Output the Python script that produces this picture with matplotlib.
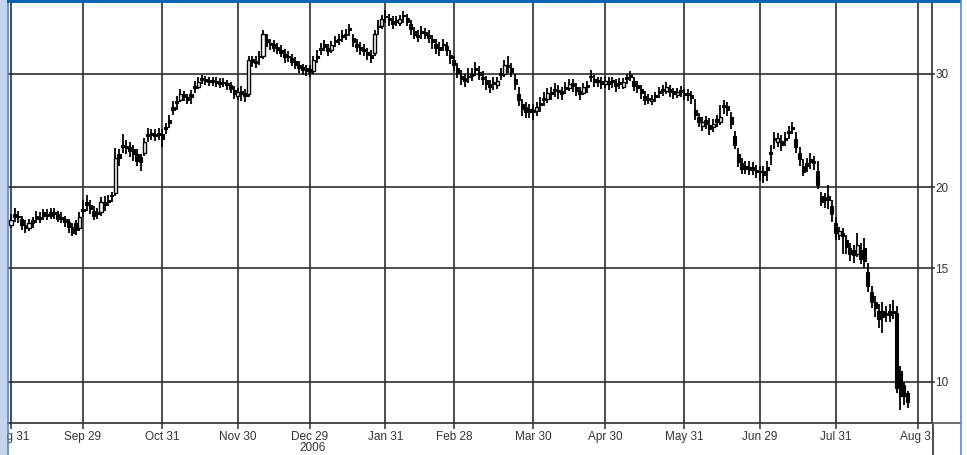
import matplotlib
matplotlib.use("Agg")
import matplotlib.pyplot as plt
from matplotlib.patches import Rectangle
from matplotlib.lines import Line2D
import numpy as np

# ---- data (trading-day index 0 = Aug 31 2005) ----
closes = [
17.8, 18.0, 18.0, 17.5, 17.3, 17.6, 17.6, 17.9, 17.9, 18.1,
18.1, 18.1, 18.2, 17.9, 17.9, 17.7, 17.4, 17.0, 17.2, 18.0,
18.4, 18.8, 18.5, 18.1, 18.2, 19.0, 18.8, 19.0, 19.4, 22.2,
22.2, 23.1, 23.0, 22.8, 22.5, 22.0, 21.9, 23.5, 24.0, 24.1,
24.0, 24.1, 23.8, 24.6, 25.2, 26.4, 27.0, 27.9, 27.6, 27.3,
27.6, 28.5, 29.1, 29.3, 29.2, 29.1, 29.1, 29.0, 28.9, 29.0,
28.8, 28.4, 27.9, 28.1, 27.9, 27.7, 31.5, 31.3, 31.2, 31.8,
34.6, 33.6, 33.2, 32.9, 32.7, 32.3, 31.8, 31.8, 31.3, 31.0,
30.6, 30.4, 30.3, 30.2, 31.5, 31.7, 32.7, 33.0, 32.5, 33.2,
33.6, 33.8, 34.2, 34.4, 35.1, 33.6, 33.0, 32.7, 32.5, 32.1,
31.7, 34.6, 35.4, 36.4, 36.7, 36.3, 35.8, 36.1, 36.4, 36.8,
36.1, 35.2, 34.5, 34.2, 34.7, 34.5, 34.1, 33.6, 32.9, 32.7,
33.2, 32.7, 31.7, 31.0, 30.1, 29.4, 29.2, 29.6, 29.8, 30.4,
29.9, 29.4, 28.9, 28.6, 28.9, 29.2, 29.9, 31.0, 30.7, 30.2,
28.9, 27.3, 26.5, 26.2, 26.2, 26.2, 26.6, 26.8, 27.3, 28.0,
27.9, 28.2, 28.1, 27.9, 28.4, 28.9, 28.7, 28.2, 27.9, 28.6,
28.6, 29.6, 29.1, 29.1, 28.9, 29.2, 28.9, 29.1, 28.7, 28.9,
29.1, 29.4, 29.7, 28.7, 28.5, 28.0, 27.3, 27.3, 27.4, 27.6,
28.0, 28.2, 28.6, 28.1, 27.9, 28.1, 28.1, 27.8, 27.8, 27.5,
25.9, 25.3, 25.3, 25.1, 24.6, 25.1, 25.3, 25.7, 26.6, 26.4,
25.1, 23.3, 21.9, 21.4, 21.4, 21.3, 21.3, 21.1, 21.1, 20.9,
21.3, 22.5, 23.7, 23.9, 23.3, 23.7, 24.3, 24.6, 23.1, 22.1,
21.1, 21.6, 21.9, 21.8, 20.2, 19.0, 19.1, 19.1, 18.2, 17.0,
17.1, 16.8, 16.2, 15.8, 15.7, 16.3, 15.5, 15.4, 14.1, 13.3,
13.0, 12.5, 12.6, 12.7, 12.7, 12.8, 9.8, 9.5, 9.5, 9.3,
]
opens = [
17.5, 18.2, 18.1, 17.9, 17.5, 17.3, 17.8, 18.1, 18.0, 18.3,
18.2, 18.3, 18.3, 18.2, 18.0, 17.9, 17.7, 17.4, 17.6, 17.3,
18.5, 19.0, 18.8, 18.4, 18.3, 18.3, 19.0, 19.1, 19.5, 19.6,
22.5, 23.3, 23.2, 23.1, 22.9, 22.5, 22.3, 22.6, 24.2, 24.3,
24.2, 24.3, 24.2, 24.8, 25.4, 26.6, 27.2, 27.3, 27.9, 27.6,
27.9, 28.7, 28.6, 29.5, 29.4, 29.3, 29.3, 29.2, 29.1, 29.1,
29.0, 28.8, 28.3, 27.7, 28.2, 28.0, 27.9, 31.6, 31.4, 31.9,
31.9, 34.0, 33.5, 33.3, 33.0, 32.7, 32.2, 32.0, 31.7, 31.4,
30.9, 30.7, 30.6, 30.5, 30.3, 32.0, 32.9, 33.3, 32.9, 32.6,
33.8, 34.0, 34.4, 34.6, 35.3, 34.1, 33.4, 33.0, 32.8, 32.4,
32.1, 32.3, 35.6, 35.6, 36.9, 36.6, 36.2, 36.3, 35.9, 37.0,
36.6, 35.8, 34.9, 34.5, 34.9, 34.8, 34.4, 34.0, 33.3, 33.0,
33.4, 33.1, 32.1, 31.5, 30.6, 29.8, 29.5, 29.8, 30.0, 30.6,
30.2, 29.7, 29.3, 28.9, 29.1, 28.8, 30.1, 30.0, 31.0, 30.6,
29.4, 27.9, 26.9, 26.6, 26.5, 26.4, 26.3, 27.0, 27.5, 27.4,
28.1, 28.4, 28.3, 28.2, 28.6, 28.5, 29.0, 28.6, 28.2, 28.0,
28.8, 29.8, 29.4, 29.3, 29.2, 28.9, 29.2, 29.3, 29.0, 29.1,
28.6, 29.6, 29.9, 29.2, 28.8, 28.4, 27.7, 27.5, 27.2, 27.8,
28.2, 28.4, 28.2, 28.4, 28.2, 27.8, 28.3, 28.0, 28.0, 27.8,
26.4, 25.7, 24.9, 25.4, 25.0, 24.8, 25.5, 25.3, 26.8, 26.7,
25.7, 24.0, 22.5, 21.8, 21.6, 21.5, 21.5, 21.3, 21.2, 21.2,
21.5, 22.7, 23.9, 23.5, 23.6, 23.9, 24.5, 24.8, 23.8, 22.6,
21.6, 21.8, 22.1, 22.0, 21.2, 19.4, 19.3, 19.4, 18.7, 17.6,
16.9, 17.0, 16.6, 16.1, 16.0, 15.8, 16.0, 16.1, 14.8, 13.8,
13.3, 12.9, 12.9, 12.8, 12.9, 12.9, 12.8, 10.4, 9.9, 9.6,
]
highs = [
18.2, 18.6, 18.4, 18.1, 17.8, 17.9, 18.0, 18.4, 18.3, 18.5,
18.5, 18.6, 18.6, 18.4, 18.3, 18.1, 17.9, 17.6, 17.8, 18.3,
19.1, 19.5, 19.1, 18.7, 18.6, 19.3, 19.4, 19.5, 19.7, 23.0,
22.9, 24.2, 23.7, 23.5, 23.3, 22.9, 22.5, 23.9, 24.7, 24.6,
24.6, 24.7, 24.6, 25.2, 25.9, 27.2, 27.7, 28.4, 28.2, 27.9,
28.3, 29.2, 29.6, 29.9, 29.8, 29.7, 29.6, 29.6, 29.5, 29.5,
29.3, 29.1, 28.7, 28.5, 28.7, 28.4, 31.9, 32.0, 31.9, 32.5,
35.0, 34.6, 34.0, 33.8, 33.5, 33.2, 32.8, 32.5, 32.2, 31.8,
31.4, 31.1, 31.0, 30.9, 32.0, 32.6, 33.5, 33.8, 33.4, 33.7,
34.3, 34.6, 35.0, 35.2, 35.8, 34.6, 34.0, 33.6, 33.3, 32.9,
32.6, 35.0, 36.3, 37.0, 37.6, 37.1, 36.8, 36.9, 37.0, 37.5,
37.1, 36.3, 35.4, 35.0, 35.5, 35.3, 35.0, 34.5, 33.9, 33.6,
34.0, 33.6, 32.6, 31.9, 31.2, 30.4, 30.0, 30.6, 30.6, 31.3,
30.8, 30.3, 29.8, 29.3, 29.6, 29.7, 30.6, 31.5, 32.0, 31.2,
30.0, 28.6, 27.4, 27.1, 26.9, 26.9, 27.1, 27.6, 28.1, 28.5,
28.6, 29.0, 28.8, 28.6, 29.1, 29.4, 29.4, 29.0, 28.6, 29.0,
29.2, 30.4, 29.9, 29.7, 29.6, 29.6, 29.6, 29.7, 29.4, 29.5,
29.5, 30.0, 30.3, 29.6, 29.2, 28.8, 28.2, 27.9, 27.8, 28.1,
28.6, 28.8, 29.1, 28.8, 28.5, 28.5, 28.7, 28.4, 28.4, 28.2,
27.4, 26.1, 25.7, 25.8, 25.6, 25.5, 25.9, 26.8, 27.3, 27.1,
26.2, 24.5, 23.0, 22.2, 22.0, 22.0, 21.9, 21.7, 21.6, 21.6,
22.0, 23.3, 24.4, 24.3, 24.1, 24.4, 24.9, 25.3, 24.4, 23.1,
22.1, 22.2, 22.6, 22.4, 22.0, 19.7, 19.6, 20.2, 19.1, 18.0,
17.4, 17.3, 16.9, 16.4, 16.3, 17.0, 16.4, 16.7, 15.3, 14.1,
13.6, 13.2, 13.3, 13.1, 13.2, 13.4, 13.1, 10.6, 10.0, 9.7,
]
lows = [
17.3, 17.7, 17.6, 17.2, 17.0, 17.1, 17.3, 17.6, 17.6, 17.8,
17.8, 17.9, 17.9, 17.7, 17.6, 17.4, 17.0, 16.8, 16.9, 17.1,
18.0, 18.4, 18.2, 17.8, 17.9, 18.1, 18.4, 18.7, 19.0, 19.4,
21.6, 22.6, 22.5, 22.3, 22.0, 21.6, 21.2, 22.4, 23.5, 23.7,
23.6, 23.7, 23.1, 24.2, 24.7, 25.9, 26.4, 27.1, 27.2, 26.9,
26.9, 28.0, 28.4, 28.9, 28.8, 28.7, 28.7, 28.6, 28.5, 28.6,
28.3, 28.0, 27.4, 27.3, 27.2, 27.1, 27.6, 30.7, 30.6, 31.0,
31.6, 33.0, 32.7, 32.4, 32.2, 31.8, 31.2, 31.3, 30.8, 30.5,
30.1, 29.9, 29.8, 29.6, 30.0, 31.2, 32.1, 32.5, 32.0, 32.3,
33.0, 33.2, 33.6, 33.8, 34.3, 33.0, 32.4, 32.1, 31.9, 31.5,
31.2, 32.0, 34.5, 35.2, 36.0, 35.6, 35.2, 35.5, 35.5, 36.0,
35.5, 34.5, 33.9, 33.6, 34.0, 33.9, 33.5, 32.8, 32.2, 32.0,
32.5, 32.0, 31.1, 30.3, 29.5, 28.8, 28.6, 29.0, 29.2, 29.8,
29.3, 28.8, 28.3, 28.0, 28.3, 28.4, 29.3, 29.7, 30.1, 29.6,
28.3, 26.7, 25.8, 25.6, 25.6, 25.4, 25.8, 26.2, 26.7, 27.0,
27.3, 27.6, 27.4, 27.3, 27.9, 28.2, 28.1, 27.7, 27.3, 27.8,
28.0, 29.1, 28.6, 28.6, 28.4, 28.5, 28.3, 28.5, 28.1, 28.4,
28.4, 28.9, 29.2, 28.2, 28.0, 27.4, 26.8, 26.9, 26.8, 27.1,
27.5, 27.7, 27.9, 27.6, 27.4, 27.5, 27.6, 27.3, 27.2, 26.9,
25.4, 24.8, 24.5, 24.6, 24.1, 24.4, 24.8, 25.0, 26.0, 25.8,
24.6, 22.9, 21.5, 21.0, 21.0, 20.9, 20.9, 20.7, 20.5, 20.3,
20.5, 21.7, 22.9, 23.1, 22.8, 23.2, 23.8, 24.2, 22.6, 21.6,
20.8, 21.1, 21.4, 21.3, 19.9, 18.7, 18.6, 18.5, 17.7, 16.6,
16.6, 15.8, 15.8, 15.4, 15.3, 15.6, 15.2, 15.0, 13.8, 13.0,
12.6, 12.1, 11.9, 12.4, 12.4, 12.5, 9.6, 9.05, 9.2, 9.1,
]
tick_idx = [0, 20, 42, 63, 83, 104, 123, 145, 165, 187, 208, 229, 252]
tick_labels = ["Aug 31", "Sep 29", "Oct 31", "Nov 30", "Dec 29", "Jan 31",
               "Feb 28", "Mar 30", "Apr 30", "May 31", "Jun 29", "Jul 31", "Aug 31"]
year_label = "2006"
year_tick = 83
price_ticks = [10, 15, 20, 30]

plt.rcParams["font.family"] = ["Liberation Sans", "DejaVu Sans"]

W, H = 967, 455
fig = plt.figure(figsize=(W / 100, H / 100), dpi=100)
fig.patch.set_facecolor("white")

ax_l, ax_r, ax_t, ax_b = 8, 932, 3, 423
ax = fig.add_axes([ax_l / W, (H - ax_b) / H, (ax_r - ax_l) / W, (ax_b - ax_t) / H])
ax.set_yscale("log")
ax.set_ylim(8.64, 38.6)
ax.set_xlim(-0.83, 255.8)

grid_c = "#2e2e2e"
txt_c = "#333333"

o = np.array(opens); c = np.array(closes); hi = np.array(highs); lo = np.array(lows)
x = np.arange(len(c))
ax.vlines(x, lo, hi, color="black", lw=1.3, zorder=3)
up = c >= o
bottom = np.minimum(o, c)
height = np.abs(c - o)
height = np.where(height < 0.06, 0.06, height)
ax.bar(x[~up], height[~up], bottom=bottom[~up], width=0.85, color="black",
       edgecolor="black", lw=0.8, zorder=4)
ax.bar(x[up], height[up], bottom=bottom[up], width=0.85, color="white",
       edgecolor="black", lw=1.0, zorder=4)

# axes / grid
ax.set_xticks(tick_idx)
ax.set_xticklabels(tick_labels, fontsize=8.5, color=txt_c)
ax.yaxis.tick_right()
ax.set_yticks(price_ticks)
ax.set_yticklabels([str(v) for v in price_ticks], fontsize=8.5, color=txt_c)
ax.yaxis.set_minor_locator(matplotlib.ticker.NullLocator())
ax.tick_params(axis="x", length=4, width=1.1, color=grid_c, pad=1.5)
ax.tick_params(axis="y", length=2, width=1.1, color=grid_c, pad=0.5)
ax.grid(True, color=grid_c, lw=1.2)
ax.set_axisbelow(True)
for s in ["left", "top"]:
    ax.spines[s].set_visible(False)
for s in ["right", "bottom"]:
    ax.spines[s].set_color(grid_c)
    ax.spines[s].set_linewidth(1.2)

ax.annotate(year_label, xy=(year_tick, 0), xycoords=("data", "axes fraction"),
            xytext=(3, -25), textcoords="offset pixels", ha="center", va="center",
            fontsize=8.5, color=txt_c)

def fx(px):
    return px / W

def fy(py):
    return 1 - py / H

# cover clipped label area right of the plot
fig.add_artist(Rectangle((fx(ax_r), 0), fx(962) - fx(ax_r), fy(ax_b) + 0.001,
                         transform=fig.transFigure, facecolor="white", edgecolor="none", zorder=20))
fig.add_artist(Line2D([fx(ax_r + 0.5), fx(ax_r + 0.5)], [0, fy(ax_b)], transform=fig.transFigure,
                      color=grid_c, lw=1.2, zorder=21))
fig.add_artist(Line2D([fx(ax_r), fx(960)], [fy(ax_b), fy(ax_b)], transform=fig.transFigure,
                      color="#555555", lw=1.2, zorder=21))
# window frame decorations
fig.add_artist(Rectangle((0, 0), fx(7), 1, transform=fig.transFigure,
                         facecolor="#c5d3eb", edgecolor="none", zorder=22))
fig.add_artist(Line2D([fx(7.5), fx(7.5)], [0, 1], transform=fig.transFigure,
                      color="#3d86d6", lw=1.2, zorder=23))
fig.add_artist(Rectangle((fx(7), fy(3)), fx(961) - fx(7), 3 / H, transform=fig.transFigure,
                         facecolor="#0a63b3", edgecolor="none", zorder=23))
fig.add_artist(Line2D([fx(960.5), fx(960.5)], [0, 1], transform=fig.transFigure,
                      color="#4a8fd8", lw=1.2, zorder=23))

fig.savefig("out.png", dpi=100)
